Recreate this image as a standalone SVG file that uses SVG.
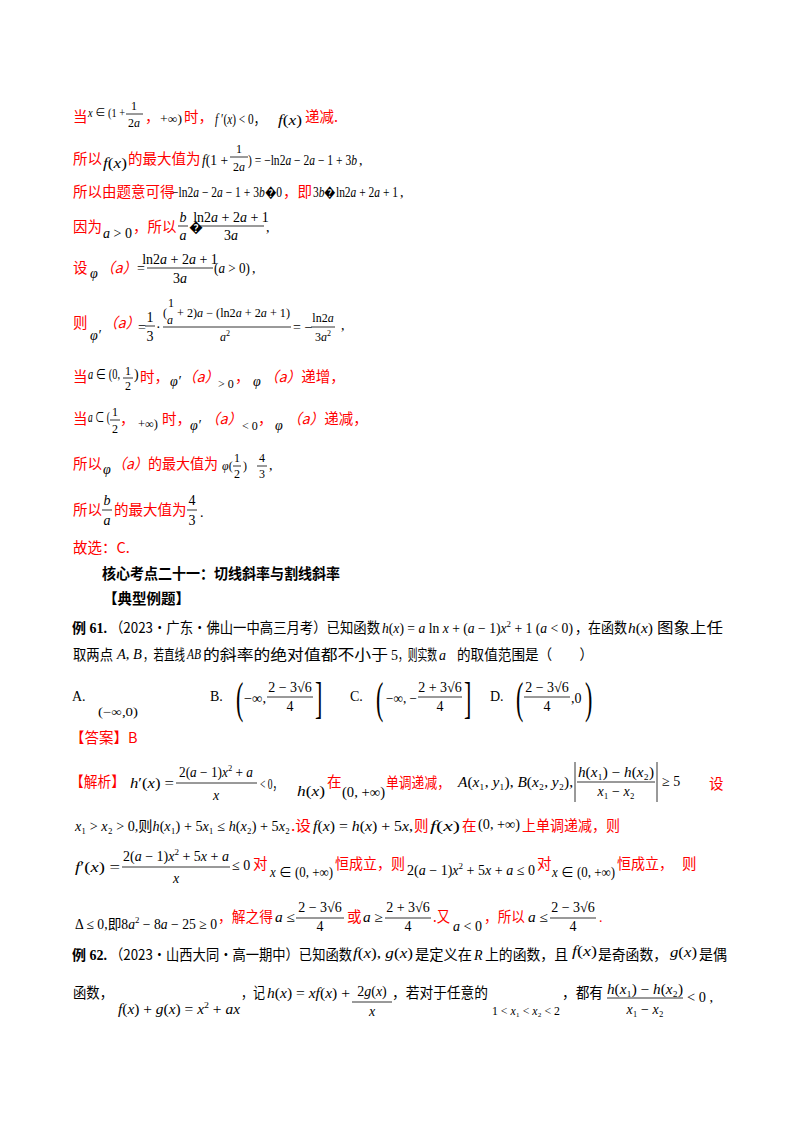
<svg xmlns="http://www.w3.org/2000/svg" width="800" height="1132" viewBox="0 0 800 1132">
<style>
text{font-family:"Liberation Serif","Noto Sans CJK SC",serif;font-size:14px;fill:#000}
.c{font-family:"Noto Sans CJK SC",sans-serif;font-size:14.5px}
.r{fill:#ff0000}
.b{font-weight:bold}
.i{font-style:italic}
.s{font-size:12px}
.mid{text-anchor:middle}
.big{font-size:44px;font-family:"Liberation Serif",serif}
line{stroke:#000;stroke-width:0.8}
</style>
<rect width="800" height="1132" fill="#fff"/>
<g id="sol1">
<text x="73" y="122" class="c r">当</text>
<text x="88" y="117" class="s" textLength="37" lengthAdjust="spacingAndGlyphs"><tspan class="i">x</tspan> ∈ (1 +</text>
<text x="134" y="110" class="mid s">1</text><line x1="126" y1="114" x2="143" y2="114"/><text x="134" y="127" class="mid s">2<tspan class="i">a</tspan></text>
<text x="145" y="122" class="c r">，</text>
<text x="160" y="123" class="s" textLength="22" lengthAdjust="spacingAndGlyphs">+∞)</text>
<text x="184" y="122" class="c r">时，</text>
<text x="215" y="124" textLength="50" lengthAdjust="spacingAndGlyphs"><tspan class="i">f</tspan> ′(<tspan class="i">x</tspan>) &lt; 0，</text>
<text x="278" y="125" textLength="24" lengthAdjust="spacingAndGlyphs"><tspan class="i">f</tspan>(<tspan class="i">x</tspan>)</text>
<text x="305" y="122" class="c r">递减.</text>

<text x="73" y="164" class="c r">所以</text>
<text x="103" y="168" textLength="24" lengthAdjust="spacingAndGlyphs"><tspan class="i">f</tspan>(<tspan class="i">x</tspan>)</text>
<text x="128" y="164" class="c r">的最大值为</text>
<text x="202" y="165" textLength="26" lengthAdjust="spacingAndGlyphs"><tspan class="i">f</tspan>(1 +</text>
<text x="239" y="153" class="mid s">1</text><line x1="230" y1="157" x2="248" y2="157"/><text x="239" y="171" class="mid s">2<tspan class="i">a</tspan></text>
<text x="248" y="165" textLength="109" lengthAdjust="spacingAndGlyphs">) = −ln2<tspan class="i">a</tspan> − 2<tspan class="i">a</tspan> − 1 + 3<tspan class="i">b</tspan></text>
<text x="359" y="165">,</text>

<text x="73" y="197" class="c r">所以由题意可得</text>
<text x="172" y="197" textLength="110" lengthAdjust="spacingAndGlyphs">−ln2<tspan class="i">a</tspan> − 2<tspan class="i">a</tspan> − 1 + 3<tspan class="i">b</tspan>�0</text>
<text x="283" y="197" class="c r" textLength="29" lengthAdjust="spacingAndGlyphs">，即</text>
<text x="313" y="197" textLength="85" lengthAdjust="spacingAndGlyphs">3<tspan class="i">b</tspan>�ln2<tspan class="i">a</tspan> + 2<tspan class="i">a</tspan> + 1</text>
<text x="400" y="197">,</text>

<text x="73" y="232" class="c r">因为</text>
<text x="103" y="238" textLength="29" lengthAdjust="spacingAndGlyphs"><tspan class="i">a</tspan> &gt; 0</text>
<text x="133" y="232" class="c r">，所以</text>
<text x="183" y="222" class="mid i">b</text><line x1="178" y1="226" x2="188" y2="226"/><text x="183" y="240" class="mid i">a</text>
<text x="189" y="232">�</text>
<text x="231" y="222" class="mid">ln2<tspan class="i">a</tspan> + 2<tspan class="i">a</tspan> + 1</text><line x1="198" y1="226" x2="264" y2="226"/><text x="231" y="240" class="mid">3<tspan class="i">a</tspan></text>
<text x="266" y="232">,</text>

<text x="73" y="273" class="c r">设</text>
<text x="90" y="278" class="i">φ</text>
<text x="100" y="273" class="c r i">（a）</text>
<text x="137" y="273">=</text>
<text x="180" y="264" class="mid">ln2<tspan class="i">a</tspan> + 2<tspan class="i">a</tspan> + 1</text><line x1="147" y1="268" x2="213" y2="268"/><text x="180" y="283" class="mid">3<tspan class="i">a</tspan></text>
<text x="214" y="273" textLength="36" lengthAdjust="spacingAndGlyphs">(<tspan class="i">a</tspan> &gt; 0)</text>
<text x="252" y="273">,</text>

<text x="73" y="328" class="c r">则</text>
<text x="90" y="340" class="i">φ′</text>
<text x="103" y="328" class="c r i">（a）</text>
<text x="138" y="332">=</text>
<text x="150" y="322" class="mid">1</text><line x1="145" y1="326" x2="155" y2="326"/><text x="150" y="341" class="mid">3</text>
<text x="156" y="332">·</text>
<text x="163" y="317" class="s">(</text><text x="168" y="307" class="s">1</text><text x="167" y="324" class="s i">a</text>
<text x="177" y="317" class="s" textLength="113" lengthAdjust="spacingAndGlyphs">+ 2)<tspan class="i">a</tspan> − (ln2<tspan class="i">a</tspan> + 2<tspan class="i">a</tspan> + 1)</text>
<line x1="163" y1="327" x2="291" y2="327"/>
<text x="225" y="341" class="mid s"><tspan class="i">a</tspan><tspan dy="-5" font-size="8">2</tspan></text>
<text x="293" y="332">= −</text>
<text x="323" y="322" class="mid s">ln2<tspan class="i">a</tspan></text><line x1="311" y1="327" x2="335" y2="327"/><text x="323" y="341" class="mid s">3<tspan class="i">a</tspan><tspan dy="-5" font-size="8">2</tspan></text>
<text x="341" y="330">,</text>

<text x="73" y="382" class="c r">当</text>
<text x="88" y="379" textLength="32" lengthAdjust="spacingAndGlyphs"><tspan class="i">a</tspan> ∈ (0,</text>
<text x="128" y="375" class="mid s">1</text><line x1="123" y1="378" x2="133" y2="378"/><text x="128" y="390" class="mid s">2</text>
<text x="134" y="379">)</text>
<text x="140" y="382" class="c r">时，</text>
<text x="170" y="386" class="i">φ′</text>
<text x="182" y="382" class="c r i">（a）</text>
<text x="218" y="388" class="s">&gt; 0</text>
<text x="235" y="382" class="c r">，</text>
<text x="253" y="386" class="i">φ</text>
<text x="264" y="382" class="c r"><tspan class="i">（a）</tspan>递增，</text>

<text x="73" y="424" class="c r">当</text>
<text x="88" y="422" textLength="22" lengthAdjust="spacingAndGlyphs"><tspan class="i">a</tspan> ⊂ (</text>
<text x="115" y="416" class="mid s">1</text><line x1="110" y1="420" x2="120" y2="420"/><text x="115" y="433" class="mid s">2</text>
<text x="120" y="424" class="c r">，</text>
<text x="138" y="428" class="s" textLength="20" lengthAdjust="spacingAndGlyphs">+∞)</text>
<text x="162" y="424" class="c r">时，</text>
<text x="190" y="430" class="i">φ′</text>
<text x="205" y="424" class="c r i">（a）</text>
<text x="242" y="430" class="s">&lt; 0</text>
<text x="258" y="424" class="c r">，</text>
<text x="275" y="430" class="i">φ</text>
<text x="287" y="424" class="c r"><tspan class="i">（a）</tspan>递减，</text>

<text x="73" y="469" class="c r">所以</text>
<text x="103" y="474" class="i">φ</text>
<text x="112" y="469" class="c r" textLength="106" lengthAdjust="spacingAndGlyphs"><tspan class="i">（a）</tspan>的最大值为</text>
<text x="222" y="470" class="s"><tspan class="i">φ</tspan>(</text>
<text x="237" y="462" class="mid s">1</text><line x1="233" y1="466" x2="241" y2="466"/><text x="237" y="478" class="mid s">2</text>
<text x="243" y="470" class="s">)</text>
<text x="262" y="462" class="mid s">4</text><line x1="257" y1="466" x2="267" y2="466"/><text x="262" y="478" class="mid s">3</text>
<text x="269" y="470">,</text>

<text x="73" y="515" class="c r">所以</text>
<text x="107" y="505" class="mid i">b</text><line x1="102" y1="510" x2="112" y2="510"/><text x="107" y="525" class="mid i">a</text>
<text x="114" y="515" class="c r">的最大值为</text>
<text x="192" y="505" class="mid">4</text><line x1="187" y1="510" x2="197" y2="510"/><text x="192" y="525" class="mid">3</text>
<text x="200" y="517">.</text>

<text x="73" y="553" class="c r">故选：C.</text>
</g>
<g id="heading">
<text x="102" y="579" class="c b" textLength="238" lengthAdjust="spacingAndGlyphs">核心考点二十一：切线斜率与割线斜率</text>
<text x="103" y="604" class="c b">【典型例题】</text>
</g>
<g id="ex61">
<text x="72" y="633" class="b">例 61.</text>
<text x="110" y="633" class="c" textLength="270" lengthAdjust="spacingAndGlyphs">（2023·广东·佛山一中高三月考）已知函数</text>
<text x="382" y="633" textLength="191" lengthAdjust="spacingAndGlyphs"><tspan class="i">h</tspan>(<tspan class="i">x</tspan>) = <tspan class="i">a</tspan> ln <tspan class="i">x</tspan> + (<tspan class="i">a</tspan> − 1)<tspan class="i">x</tspan><tspan dy="-6" font-size="9">2</tspan><tspan dy="6"> + 1 (</tspan><tspan class="i">a</tspan> &lt; 0)</text>
<text x="575" y="633" class="c" textLength="52" lengthAdjust="spacingAndGlyphs">，在函数</text>
<text x="628" y="633" textLength="25" lengthAdjust="spacingAndGlyphs"><tspan class="i">h</tspan>(<tspan class="i">x</tspan>)</text>
<text x="657" y="633" class="c" textLength="66" lengthAdjust="spacingAndGlyphs">图象上任</text>

<text x="73" y="660" class="c" textLength="40" lengthAdjust="spacingAndGlyphs">取两点</text>
<text x="117" y="659" textLength="25" lengthAdjust="spacingAndGlyphs"><tspan class="i">A</tspan>, <tspan class="i">B</tspan></text>
<text x="143" y="660" class="c" textLength="42" lengthAdjust="spacingAndGlyphs">，若直线</text>
<text x="187" y="659" class="i" textLength="14" lengthAdjust="spacingAndGlyphs">AB</text>
<text x="203" y="660" class="c" textLength="185" lengthAdjust="spacingAndGlyphs">的斜率的绝对值都不小于</text>
<text x="391" y="660">5</text>
<text x="398" y="660" class="c" textLength="39" lengthAdjust="spacingAndGlyphs">，则实数</text>
<text x="439" y="660" class="i">a</text>
<text x="457" y="660" class="c" textLength="136" lengthAdjust="spacingAndGlyphs">的取值范围是（　　）</text>

<text x="72" y="701">A.</text>
<text x="98" y="716" class="s" textLength="40" lengthAdjust="spacingAndGlyphs">(−∞,0)</text>
<text x="210" y="701">B.</text>
<text x="236" y="713" class="big" transform="translate(236 0) scale(0.5 1) translate(-236 0)">(</text>
<text x="244" y="703" textLength="22" lengthAdjust="spacingAndGlyphs">−∞,</text>
<text x="290" y="692" class="mid">2 − 3√6</text><line x1="267" y1="697" x2="313" y2="697"/><text x="290" y="711" class="mid">4</text>
<text x="315" y="713" class="big" transform="translate(315 0) scale(0.5 1) translate(-315 0)">]</text>
<text x="350" y="701">C.</text>
<text x="376" y="713" class="big" transform="translate(376 0) scale(0.5 1) translate(-376 0)">(</text>
<text x="386" y="703" textLength="31" lengthAdjust="spacingAndGlyphs">−∞, −</text>
<text x="440" y="692" class="mid">2 + 3√6</text><line x1="418" y1="697" x2="462" y2="697"/><text x="440" y="711" class="mid">4</text>
<text x="464" y="713" class="big" transform="translate(464 0) scale(0.5 1) translate(-464 0)">]</text>
<text x="490" y="701">D.</text>
<text x="516" y="713" class="big" transform="translate(516 0) scale(0.5 1) translate(-516 0)">(</text>
<text x="547" y="692" class="mid">2 − 3√6</text><line x1="524" y1="697" x2="570" y2="697"/><text x="547" y="711" class="mid">4</text>
<text x="571" y="703">,0</text>
<text x="585" y="713" class="big" transform="translate(585 0) scale(0.5 1) translate(-585 0)">)</text>

<text x="70" y="743" class="c r">【答案】B</text>

<text x="70" y="787" class="c r" textLength="55" lengthAdjust="spacingAndGlyphs">【解析】</text>
<text x="130" y="788" textLength="44" lengthAdjust="spacingAndGlyphs"><tspan class="i">h</tspan>′(<tspan class="i">x</tspan>) =</text>
<text x="216" y="777" class="mid" textLength="74" lengthAdjust="spacingAndGlyphs">2(<tspan class="i">a</tspan> − 1)<tspan class="i">x</tspan><tspan dy="-6" font-size="9">2</tspan><tspan dy="6"> + </tspan><tspan class="i">a</tspan></text><line x1="176" y1="783" x2="257" y2="783"/><text x="216" y="800" class="mid i">x</text>
<text x="260" y="789" textLength="22" lengthAdjust="spacingAndGlyphs">&lt; 0，</text>
<text x="297" y="796" textLength="28" lengthAdjust="spacingAndGlyphs"><tspan class="i">h</tspan>(<tspan class="i">x</tspan>)</text>
<text x="327" y="787" class="c r">在</text>
<text x="342" y="797" textLength="43" lengthAdjust="spacingAndGlyphs">(0, +∞)</text>
<text x="386" y="788" class="c r" textLength="64" lengthAdjust="spacingAndGlyphs">单调递减，</text>
<text x="458" y="787" textLength="115" lengthAdjust="spacingAndGlyphs"><tspan class="i">A</tspan>(<tspan class="i">x</tspan>₁, <tspan class="i">y</tspan>₁), <tspan class="i">B</tspan>(<tspan class="i">x</tspan>₂, <tspan class="i">y</tspan>₂),</text>
<line x1="575" y1="762" x2="575" y2="802"/>
<text x="616" y="777" class="mid" textLength="76" lengthAdjust="spacingAndGlyphs"><tspan class="i">h</tspan>(<tspan class="i">x</tspan>₁) − <tspan class="i">h</tspan>(<tspan class="i">x</tspan>₂)</text><line x1="577" y1="782" x2="655" y2="782"/><text x="616" y="796" class="mid"><tspan class="i">x</tspan>₁ − <tspan class="i">x</tspan>₂</text>
<line x1="657" y1="762" x2="657" y2="802"/>
<text x="662" y="786">≥ 5</text>
<text x="709" y="789" class="c r">设</text>

<text x="75" y="831" textLength="215" lengthAdjust="spacingAndGlyphs"><tspan class="i">x</tspan>₁ &gt; <tspan class="i">x</tspan>₂ &gt; 0,则<tspan class="i">h</tspan>(<tspan class="i">x</tspan>₁) + 5<tspan class="i">x</tspan>₁ ≤ <tspan class="i">h</tspan>(<tspan class="i">x</tspan>₂) + 5<tspan class="i">x</tspan>₂</text>
<text x="291" y="831" class="c r" textLength="20" lengthAdjust="spacingAndGlyphs">.设</text>
<text x="313" y="831" textLength="100" lengthAdjust="spacingAndGlyphs"><tspan class="i">f</tspan>(<tspan class="i">x</tspan>) = <tspan class="i">h</tspan>(<tspan class="i">x</tspan>) + 5<tspan class="i">x</tspan>,</text>
<text x="414" y="831" class="c r">则</text>
<text x="430" y="831" textLength="30" lengthAdjust="spacingAndGlyphs"><tspan class="i">f</tspan>(<tspan class="i">x</tspan>)</text>
<text x="462" y="831" class="c r">在</text>
<text x="478" y="829" textLength="42" lengthAdjust="spacingAndGlyphs">(0, +∞)</text>
<text x="522" y="831" class="c r" textLength="98" lengthAdjust="spacingAndGlyphs">上单调递减，则</text>

<text x="75" y="872" textLength="45" lengthAdjust="spacingAndGlyphs"><tspan class="i">f</tspan>′(<tspan class="i">x</tspan>) =</text>
<text x="176" y="861" class="mid" textLength="106" lengthAdjust="spacingAndGlyphs">2(<tspan class="i">a</tspan> − 1)<tspan class="i">x</tspan><tspan dy="-6" font-size="9">2</tspan><tspan dy="6"> + 5</tspan><tspan class="i">x</tspan> + <tspan class="i">a</tspan></text><line x1="122" y1="867" x2="230" y2="867"/><text x="176" y="883" class="mid i">x</text>
<text x="232" y="870">≤ 0</text>
<text x="253" y="869" class="c r">对</text>
<text x="270" y="877" textLength="63" lengthAdjust="spacingAndGlyphs"><tspan class="i">x</tspan> ∈ (0, +∞)</text>
<text x="335" y="869" class="c r" textLength="70" lengthAdjust="spacingAndGlyphs">恒成立，则</text>
<text x="407" y="875" textLength="128" lengthAdjust="spacingAndGlyphs">2(<tspan class="i">a</tspan> − 1)<tspan class="i">x</tspan><tspan dy="-6" font-size="9">2</tspan><tspan dy="6"> + 5</tspan><tspan class="i">x</tspan> + <tspan class="i">a</tspan> ≤ 0</text>
<text x="537" y="869" class="c r">对</text>
<text x="552" y="877" textLength="63" lengthAdjust="spacingAndGlyphs"><tspan class="i">x</tspan> ∈ (0, +∞)</text>
<text x="617" y="869" class="c r" textLength="56" lengthAdjust="spacingAndGlyphs">恒成立，</text>
<text x="682" y="869" class="c r">则</text>

<text x="75" y="929" textLength="142" lengthAdjust="spacingAndGlyphs">Δ ≤ 0,即8<tspan class="i">a</tspan><tspan dy="-6" font-size="9">2</tspan><tspan dy="6"> − 8</tspan><tspan class="i">a</tspan> − 25 ≥ 0</text>
<text x="218" y="922" class="c r" textLength="55" lengthAdjust="spacingAndGlyphs">，解之得</text>
<text x="275" y="922" textLength="20" lengthAdjust="spacingAndGlyphs"><tspan class="i">a</tspan> ≤</text>
<text x="320" y="912" class="mid">2 − 3√6</text><line x1="296" y1="918" x2="344" y2="918"/><text x="320" y="931" class="mid">4</text>
<text x="347" y="922" class="c r">或</text>
<text x="363" y="922" textLength="20" lengthAdjust="spacingAndGlyphs"><tspan class="i">a</tspan> ≥</text>
<text x="408" y="912" class="mid">2 + 3√6</text><line x1="385" y1="918" x2="431" y2="918"/><text x="408" y="931" class="mid">4</text>
<text x="433" y="922" class="c r" textLength="17" lengthAdjust="spacingAndGlyphs">.又</text>
<text x="453" y="931" textLength="29" lengthAdjust="spacingAndGlyphs"><tspan class="i">a</tspan> &lt; 0</text>
<text x="484" y="922" class="c r" textLength="41" lengthAdjust="spacingAndGlyphs">，所以</text>
<text x="528" y="922" textLength="20" lengthAdjust="spacingAndGlyphs"><tspan class="i">a</tspan> ≤</text>
<text x="573" y="912" class="mid">2 − 3√6</text><line x1="550" y1="918" x2="596" y2="918"/><text x="573" y="931" class="mid">4</text>
<text x="599" y="922" class="r">.</text>
</g>
<g id="ex62">
<text x="72" y="960" class="b">例 62.</text>
<text x="110" y="960" class="c" textLength="242" lengthAdjust="spacingAndGlyphs">（2023·山西大同·高一期中）已知函数</text>
<text x="353" y="958" textLength="60" lengthAdjust="spacingAndGlyphs"><tspan class="i">f</tspan>(<tspan class="i">x</tspan>), <tspan class="i">g</tspan>(<tspan class="i">x</tspan>)</text>
<text x="415" y="960" class="c" textLength="57" lengthAdjust="spacingAndGlyphs">是定义在</text>
<text x="474" y="960" class="i">R</text>
<text x="485" y="960" class="c" textLength="83" lengthAdjust="spacingAndGlyphs">上的函数，且</text>
<text x="572" y="956" textLength="25" lengthAdjust="spacingAndGlyphs"><tspan class="i">f</tspan>(<tspan class="i">x</tspan>)</text>
<text x="598" y="960" class="c" textLength="69" lengthAdjust="spacingAndGlyphs">是奇函数，</text>
<text x="670" y="957" textLength="27" lengthAdjust="spacingAndGlyphs"><tspan class="i">g</tspan>(<tspan class="i">x</tspan>)</text>
<text x="699" y="960" class="c" textLength="28" lengthAdjust="spacingAndGlyphs">是偶</text>

<text x="73" y="998" class="c" textLength="40" lengthAdjust="spacingAndGlyphs">函数，</text>
<text x="118" y="1014" textLength="122" lengthAdjust="spacingAndGlyphs"><tspan class="i">f</tspan>(<tspan class="i">x</tspan>) + <tspan class="i">g</tspan>(<tspan class="i">x</tspan>) = <tspan class="i">x</tspan><tspan dy="-6" font-size="9">2</tspan><tspan dy="6"> + </tspan><tspan class="i">ax</tspan></text>
<text x="241" y="998" class="c" textLength="24" lengthAdjust="spacingAndGlyphs">，记</text>
<text x="267" y="998" textLength="83" lengthAdjust="spacingAndGlyphs"><tspan class="i">h</tspan>(<tspan class="i">x</tspan>) = <tspan class="i">xf</tspan>(<tspan class="i">x</tspan>) +</text>
<text x="372" y="996" class="mid">2<tspan class="i">g</tspan>(<tspan class="i">x</tspan>)</text><line x1="352" y1="1002" x2="392" y2="1002"/><text x="372" y="1016" class="mid i">x</text>
<text x="392" y="998" class="c" textLength="96" lengthAdjust="spacingAndGlyphs">，若对于任意的</text>
<text x="492" y="1015" class="s" textLength="68" lengthAdjust="spacingAndGlyphs">1 &lt; <tspan class="i">x</tspan>₁ &lt; <tspan class="i">x</tspan>₂ &lt; 2</text>
<text x="562" y="998" class="c" textLength="41" lengthAdjust="spacingAndGlyphs">，都有</text>
<text x="645" y="994" class="mid" textLength="76" lengthAdjust="spacingAndGlyphs"><tspan class="i">h</tspan>(<tspan class="i">x</tspan>₁) − <tspan class="i">h</tspan>(<tspan class="i">x</tspan>₂)</text><line x1="607" y1="998" x2="683" y2="998"/><text x="645" y="1014" class="mid"><tspan class="i">x</tspan>₁ − <tspan class="i">x</tspan>₂</text>
<text x="687" y="1002" textLength="26" lengthAdjust="spacingAndGlyphs">&lt; 0 ,</text>
</g>
</svg>
